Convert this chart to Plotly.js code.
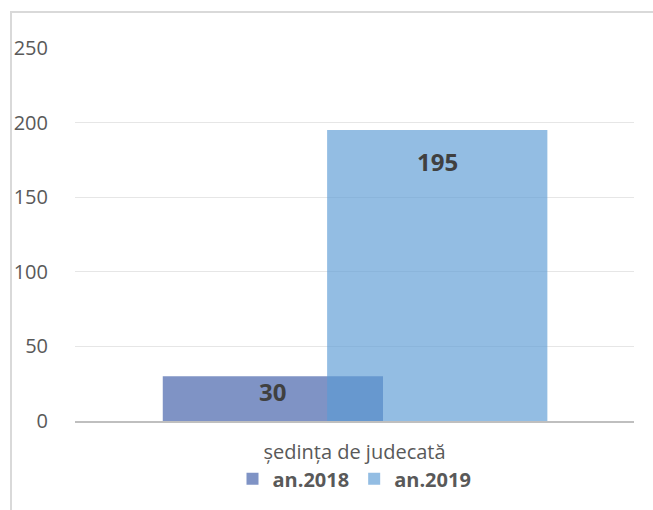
<!DOCTYPE html>
<html>
<head>
<meta charset="utf-8">
<script src="https://cdn.plot.ly/plotly-3.0.1.min.js"></script>
<style>
html,body{margin:0;padding:0;background:#fff;}
#wrap{position:relative;width:653px;height:510px;overflow:hidden;}
#chart{width:653px;height:510px;}
#frame{position:absolute;left:10px;top:11px;width:660px;height:520px;border-left:2px solid #d9d9d9;border-top:2px solid #d9d9d9;pointer-events:none;}
</style>
</head>
<body>
<div id="wrap"><div id="chart"></div><div id="frame"></div></div>
<script>
const categories = ["ședința de judecată"];
const seriesNames = ["an.2018", "an.2019"];
const values2018 = [30];
const values2019 = [195];
const yTicks = [0, 50, 100, 150, 200, 250];

const barWidth = 0.394;
const offsets = [-0.343, -0.049];
const labelShift = [-15, -31];

const labelFont = {family: "Open Sans, Liberation Sans, sans-serif", size: 24, color: "#404040", weight: "bold"};

const seriesValues = [values2018, values2019];
const colors = ["rgb(127,147,197)", "rgba(91,155,213,0.66)"];

const traces = seriesValues.map((vals, i) => ({
  type: "bar", name: seriesNames[i], x: categories, y: vals,
  width: barWidth, offset: offsets[i],
  marker: {color: colors[i]}, hoverinfo: "skip"
}));

const annotations = [];
seriesValues.forEach((vals, i) => {
  vals.forEach((v, j) => {
    annotations.push({
      xref: "x", yref: "y", x: j + offsets[i] + barWidth / 2, y: v,
      yshift: labelShift[i], yanchor: "middle", xanchor: "center",
      text: String(v), showarrow: false, font: labelFont
    });
  });
});

const layout = {
  width: 653, height: 510,
  margin: {l: 75, r: 19, t: 48, b: 87},
  paper_bgcolor: "#fff", plot_bgcolor: "#fff",
  barmode: "overlay",
  showlegend: true,
  annotations: annotations,
  font: {family: "Open Sans, Liberation Sans, sans-serif", color: "#595959", size: 20},
  xaxis: {
    type: "category", range: [-0.5, 0.5], fixedrange: true,
    showline: true, linecolor: "#bfbfbf", linewidth: 2,
    ticks: "outside", ticklen: 12, tickcolor: "rgba(0,0,0,0)",
    tickfont: {size: 20, color: "#595959"}, showgrid: false
  },
  yaxis: {
    range: [0, 250], tickvals: yTicks, fixedrange: true,
    showgrid: true, gridcolor: "#e6e6e6", gridwidth: 1,
    zeroline: false, showline: false,
    ticks: "outside", ticklen: 22, tickcolor: "rgba(0,0,0,0)",
    tickfont: {size: 20, color: "#595959"}
  },
  legend: {
    orientation: "h", x: 0.5, xanchor: "center", y: -0.155, yanchor: "middle",
    bgcolor: "rgba(0,0,0,0)",
    font: {size: 20, color: "#595959", weight: "bold"},
    itemwidth: 30, tracegroupgap: 0
  }
};

Plotly.newPlot("chart", traces, layout, {staticPlot: true, displayModeBar: false});
</script>
</body>
</html>
